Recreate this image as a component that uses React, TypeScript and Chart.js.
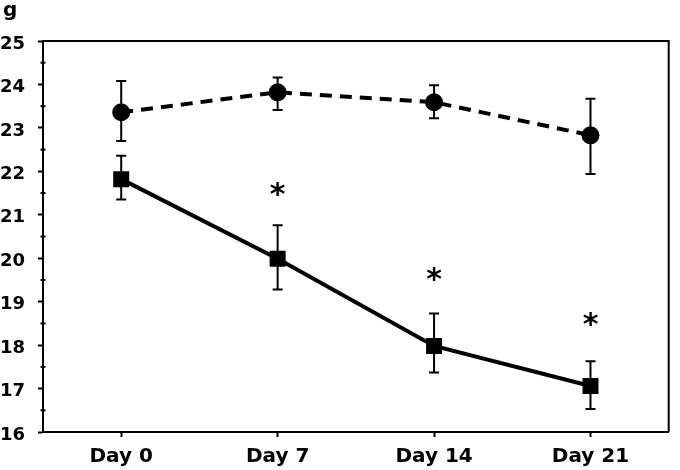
import React, { useEffect, useRef } from "react";
import { Chart, registerables } from "chart.js";

Chart.register(...registerables);

const days = ["Day 0", "Day 7", "Day 14", "Day 21"];

const circleMean = [23.36, 23.82, 23.59, 22.83];
const circleUpper = [24.08, 24.16, 23.98, 23.67];
const circleLower = [22.7, 23.41, 23.22, 21.94];

const squareMean = [21.82, 19.99, 17.98, 17.06];
const squareUpper = [22.36, 20.76, 18.73, 17.63];
const squareLower = [21.35, 19.28, 17.37, 16.53];

const asterisks = [null, 21.59, 19.62, 18.58];

const yMin = 16;
const yMax = 25;
const yUnit = "g";

const FONT = "'DejaVu Sans', sans-serif";

const errorBars = [
  { upper: circleUpper, lower: circleLower },
  { upper: squareUpper, lower: squareLower },
];

const decorPlugin = {
  id: "decor",
  beforeDatasetsDraw(chart: any) {
    const ctx = chart.ctx;
    const xs = chart.scales.x;
    const ys = chart.scales.y;
    ctx.save();
    ctx.strokeStyle = "#000";
    ctx.lineWidth = 2;
    errorBars.forEach((eb) => {
      days.forEach((_, i) => {
        const x = xs.getPixelForValue(i);
        const yt = ys.getPixelForValue(eb.upper[i]);
        const yb = ys.getPixelForValue(eb.lower[i]);
        ctx.beginPath();
        ctx.moveTo(x, yt);
        ctx.lineTo(x, yb);
        ctx.moveTo(x - 5, yt);
        ctx.lineTo(x + 5, yt);
        ctx.moveTo(x - 5, yb);
        ctx.lineTo(x + 5, yb);
        ctx.stroke();
      });
    });
    ctx.restore();
  },
  afterDraw(chart: any) {
    const ctx = chart.ctx;
    const xs = chart.scales.x;
    const ys = chart.scales.y;
    const a = chart.chartArea;
    ctx.save();
    // frame
    ctx.strokeStyle = "#000";
    ctx.lineWidth = 2;
    ctx.beginPath();
    ctx.moveTo(a.left, a.top);
    ctx.lineTo(a.right, a.top);
    ctx.lineTo(a.right, a.bottom);
    ctx.stroke();
    // minor ticks
    ctx.lineWidth = 2;
    for (let v = yMin + 0.5; v < yMax; v += 1) {
      const y = ys.getPixelForValue(v);
      ctx.beginPath();
      ctx.moveTo(a.left - 2.5, y);
      ctx.lineTo(a.left + 2.5, y);
      ctx.stroke();
    }
    // asterisks
    ctx.fillStyle = "#000";
    ctx.font = `bold 30px ${FONT}`;
    ctx.textAlign = "center";
    ctx.textBaseline = "alphabetic";
    asterisks.forEach((v, i) => {
      if (v == null) return;
      const x = xs.getPixelForValue(i);
      const y = ys.getPixelForValue(v);
      const m = ctx.measureText("*");
      const asc = m.actualBoundingBoxAscent;
      const desc = m.actualBoundingBoxDescent;
      ctx.fillText("*", x, y + (asc - desc) / 2);
    });
    // unit label
    ctx.font = `bold 20px ${FONT}`;
    ctx.textAlign = "left";
    ctx.fillText(yUnit, 3, 16);
    ctx.restore();
  },
};

export default function App() {
  const ref = useRef<HTMLCanvasElement>(null);
  useEffect(() => {
    document.body.style.margin = "0";
    const chart = new Chart(ref.current as HTMLCanvasElement, {
      type: "line",
      data: {
        labels: days,
        datasets: [
          {
            data: circleMean,
            borderColor: "#000",
            backgroundColor: "#000",
            borderWidth: 4,
            borderDash: [12, 8],
            pointStyle: "circle",
            pointRadius: 9,
            pointBorderWidth: 0,
            tension: 0,
          },
          {
            data: squareMean,
            borderColor: "#000",
            backgroundColor: "#000",
            borderWidth: 4,
            pointStyle: "rect",
            pointRadius: 11.3,
            pointBorderWidth: 0,
            tension: 0,
          },
        ],
      },
      options: {
        responsive: false,
        animation: false,
        layout: { padding: { top: 41, right: 2, left: 0, bottom: 0 } },
        plugins: { legend: { display: false }, tooltip: { enabled: false } },
        scales: {
          x: {
            offset: true,
            grid: {
              offset: false,
              drawOnChartArea: false,
              tickLength: 5,
              tickColor: "#000",
              tickWidth: 2,
            },
            border: { color: "#000", width: 2 },
            ticks: {
              color: "#000",
              padding: 8,
              font: { family: FONT, size: 20, weight: "bold" },
              maxRotation: 0,
            },
            afterFit: (s: any) => {
              s.height = 38;
            },
          },
          y: {
            min: yMin,
            max: yMax,
            grid: {
              drawOnChartArea: false,
              tickLength: 5,
              tickColor: "#000",
              tickWidth: 2,
            },
            border: { color: "#000", width: 2 },
            ticks: {
              stepSize: 1,
              color: "#000",
              padding: 13,
              labelOffset: 3,
              font: { family: FONT, size: 18, weight: "bold" },
            },
            afterFit: (s: any) => {
              s.width = 43;
            },
          },
        },
      },
      plugins: [decorPlugin],
    } as any);
    return () => chart.destroy();
  }, []);
  return (
    <div style={{ width: 680, height: 470 }}>
      <canvas ref={ref} width={680} height={470} />
    </div>
  );
}
